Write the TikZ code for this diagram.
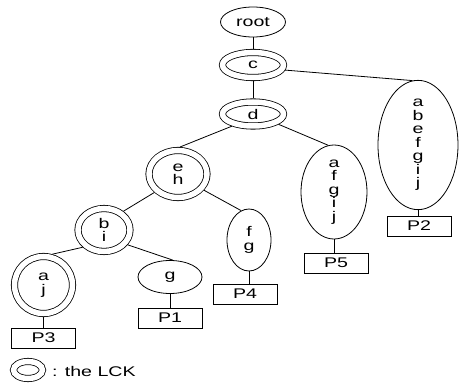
\documentclass[tikz,border=0pt]{standalone}
\usepackage{fontspec}
\setmainfont{Liberation Sans}[FakeStretch=1.4]
\usetikzlibrary{shapes.geometric}
\begin{document}
\begin{tikzpicture}[x=1pt,y=-1pt,
  every node/.style={font=\fontsize{14}{13.5}\selectfont, align=center, inner sep=0pt},
  oval/.style={draw, ellipse, line width=0.8pt},
  lck/.style={draw, ellipse, line width=0.8pt, double, double distance=5.5pt, outer sep=3.5pt},
  pbox/.style={draw, rectangle, line width=0.8pt, minimum width=64pt, minimum height=20pt},
  conn/.style={line width=0.8pt}]
\useasboundingbox (0,0) rectangle (459,385);
% tree nodes
\node[oval, minimum width=65pt, minimum height=30pt] (root) at (253,22) {root};
\node[lck, minimum width=61pt, minimum height=25pt] (c) at (253,65) {c};
\node[lck, minimum width=61pt, minimum height=24pt] (d) at (253,114) {d};
\node[lck, minimum width=58pt, minimum height=47pt] (eh) at (178,174) {e\\h};
\node[lck, minimum width=52pt, minimum height=43pt] (bi) at (104,230) {b\\i};
\node[lck, minimum width=58pt, minimum height=57pt] (aj) at (43.5,285) {a\\j};
\node[oval, minimum width=64pt, minimum height=33pt] (g) at (170,277) {g};
\node[oval, minimum width=44pt, minimum height=62pt] (fg) at (249,240) {f\\g};
\node[oval, minimum width=66pt, minimum height=94pt] (afgij) at (334,192) {a\\f\\g\\i\\j};
\node[oval, minimum width=80pt, minimum height=116pt] (abef) at (418,145) {a\\b\\e\\f\\g\\i\\j};
% boxes
\node[pbox] (p3) at (43.5,338) {P3};
\node[pbox] (p1) at (170,318) {P1};
\node[pbox] (p4) at (245,294) {P4};
\node[pbox] (p5) at (336,263) {P5};
\node[pbox] (p2) at (419,226) {P2};
% connectors
\draw[conn] (root) -- (c);
\draw[conn] (c) -- (d);
\draw[conn] (c.-9) -- (abef.95);
\draw[conn] (d.210) -- (eh.86);
\draw[conn] (d.-22) -- (afgij.97);
\draw[conn] (eh.218) -- (bi.44);
\draw[conn] (eh.-32) -- (fg.105);
\draw[conn] (bi.219) -- (aj.74);
\draw[conn] (bi.-32) -- (g.80);
\draw[conn] (aj.south) -- (aj.south |- p3.north);
\draw[conn] (g.south) -- (g.south |- p1.north);
\draw[conn] (fg.south) -- (fg.south |- p4.north);
\draw[conn] (afgij.south) -- (afgij.south |- p5.north);
\draw[conn] (abef.south) -- (abef.south |- p2.north);
% legend
\node[lck, minimum width=29pt, minimum height=17pt] (leg) at (28,370) {};
\node[anchor=west] (legt) at (52,371) {: the LCK};
\end{tikzpicture}
\end{document}
